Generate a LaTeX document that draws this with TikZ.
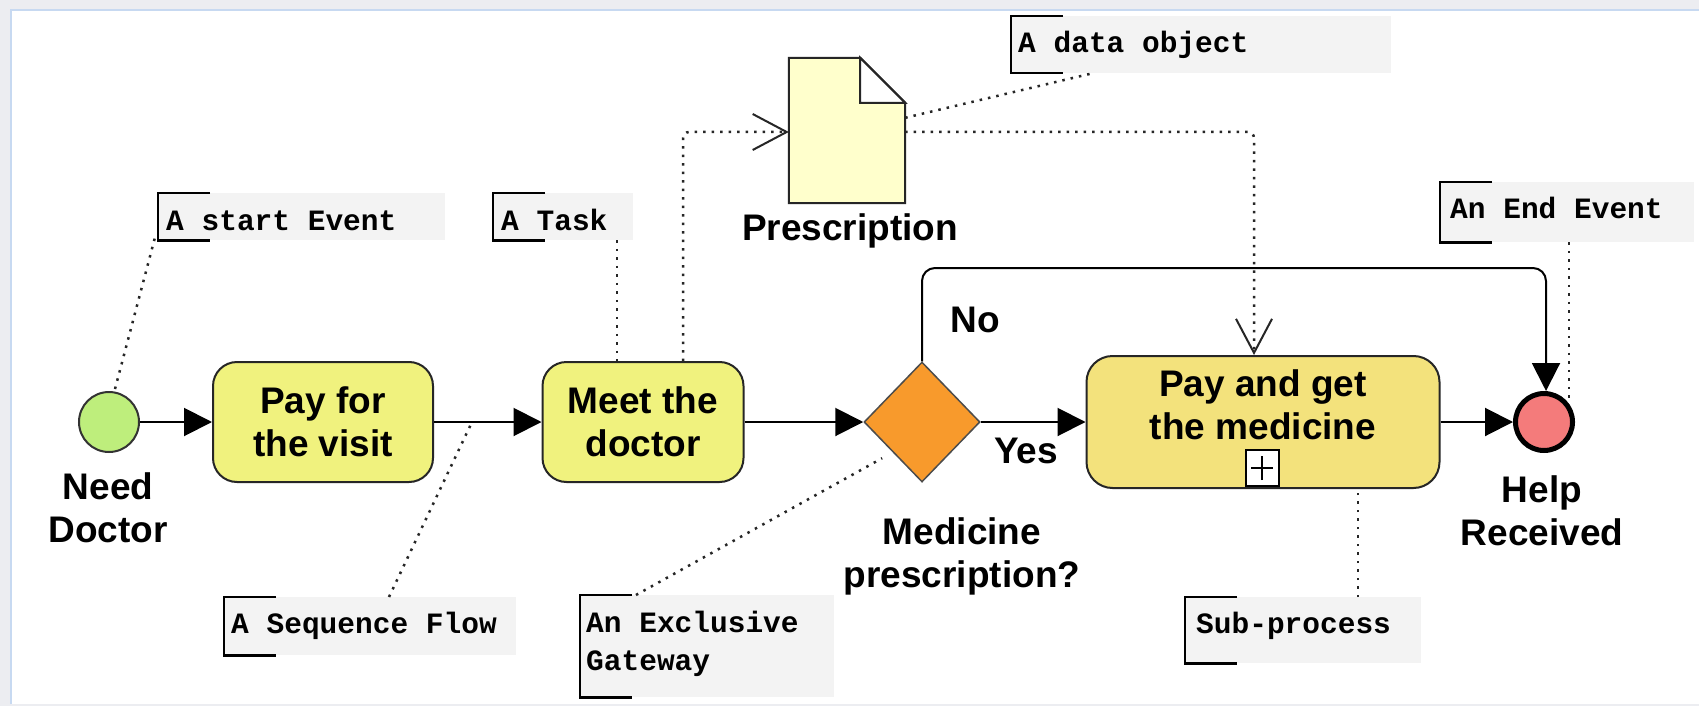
\documentclass[tikz,border=0pt]{standalone}
\usepackage{fontspec}
\setmainfont{Liberation Sans}
\setmonofont{Liberation Mono}
\usetikzlibrary{shapes.geometric,arrows.meta}
\definecolor{frameG}{HTML}{ECEDF1}
\definecolor{frameB}{HTML}{C7D9F1}
\definecolor{startG}{HTML}{BEEE7C}
\definecolor{taskY}{HTML}{F0F27E}
\definecolor{subY}{HTML}{F3E27C}
\definecolor{gwO}{HTML}{F89A2C}
\definecolor{endR}{HTML}{F47B7B}
\definecolor{dataY}{HTML}{FFFFCC}
\definecolor{annoG}{HTML}{F3F3F3}
\tikzset{
  lbl/.style={font=\fontsize{37}{43}\selectfont\bfseries, align=center, inner sep=0pt},
  taskbox/.style={draw=black!85, line width=2pt, rounded corners=24pt, fill=taskY,
    minimum height=120pt, inner sep=0pt, font=\fontsize{37}{43}\selectfont\bfseries, align=center},
  flow/.style={line width=2pt, -{Triangle[length=28pt,width=28pt]}},
  assoc/.style={draw=black!85, line width=2.5pt, dash pattern=on 2.5pt off 6pt},
  assocarrow/.style={assoc, -{Straight Barb[length=34pt,width=36pt,line width=2pt]}},
  annobox/.style={fill=annoG, inner sep=0pt, anchor=north west},
  annotext/.style={font=\fontsize{29.5}{38}\selectfont\ttfamily\bfseries, anchor=base west, inner sep=0pt, align=left},
  bracket/.style={line width=2.2pt, draw=black}
}
\begin{document}
\begin{tikzpicture}[x=1pt,y=-1pt]
\useasboundingbox (0,0) rectangle (1699,706);
% frame
\fill[frameG] (0,0) rectangle (1699,706);
\fill[white] (12,11) rectangle (1699,704);
\draw[frameB, line width=2.5pt] (11,704) -- (11,10) -- (1699,10);

% annotations
\node[annobox, minimum width=287pt, minimum height=47pt] (aStart) at (158,193) {};
\node[annotext] at ([xshift=8pt,yshift=-37pt]aStart.north west) {A start Event};
\node[annobox, minimum width=140pt, minimum height=47pt] (aTask) at (493,193) {};
\node[annotext] at ([xshift=8pt,yshift=-37pt]aTask.north west) {A Task};
\node[annobox, minimum width=380pt, minimum height=57pt] (aData) at (1011,16) {};
\node[annotext] at ([xshift=7pt,yshift=-37pt]aData.north west) {A data object};
\node[annobox, minimum width=254pt, minimum height=60pt] (aEnd) at (1440,182) {};
\node[annotext] at ([xshift=10pt,yshift=-36pt]aEnd.north west) {An End Event};
\node[annobox, minimum width=292pt, minimum height=58pt] (aSeq) at (224,597) {};
\node[annotext] at ([xshift=7pt,yshift=-36pt]aSeq.north west) {A Sequence Flow};
\node[annobox, minimum width=254pt, minimum height=102pt] (aGw) at (580,595) {};
\node[annotext] at ([xshift=6pt,yshift=-75pt]aGw.north west) {An Exclusive\\Gateway};
\node[annobox, minimum width=236pt, minimum height=66pt] (aSub) at (1185,597) {};
\node[annotext] at ([xshift=11pt,yshift=-36pt]aSub.north west) {Sub-process};
\foreach \a in {aStart,aTask,aData,aEnd,aSeq,aGw,aSub}{
  \draw[bracket] ([xshift=52pt]\a.north west) -- (\a.north west) -- (\a.south west) -- ([xshift=52pt]\a.south west);
}

% events, tasks, gateway
\node[circle, draw=black!80, line width=2pt, fill=startG, minimum size=60pt, inner sep=0pt] (start) at (109,422) {};
\node[taskbox, minimum width=220pt] (t1) at (323,422) {Pay for\\the visit};
\node[taskbox, minimum width=201pt] (t2) at (643,422) {Meet the\\doctor};
\node[diamond, draw=black!70, line width=1.5pt, fill=gwO, minimum width=116pt, minimum height=120pt, inner sep=0pt] (gw) at (922,422) {};
\node[rectangle, draw=black!85, line width=2pt, rounded corners=26pt, fill=subY, minimum width=353pt, minimum height=132pt, inner sep=0pt] (sub) at (1263,422) {};
\node[lbl, anchor=north] (subtxt) at (1263,369) {Pay and get\\the medicine};
\node[rectangle, draw=black, line width=2pt, fill=white, minimum width=33pt, minimum height=36pt, inner sep=0pt, anchor=south] (plus) at (1262,487) {};
\draw[line width=1.8pt] ([xshift=-11pt]plus.center) -- ([xshift=11pt]plus.center);
\draw[line width=1.8pt] ([yshift=-12pt]plus.center) -- ([yshift=12pt]plus.center);
\node[circle, draw=black, line width=5pt, fill=endR, minimum size=57pt, inner sep=0pt] (end) at (1544,422) {};

% data object
\node[rectangle, minimum width=116pt, minimum height=145pt, inner sep=0pt] (data) at (847,130.5) {};
\draw[line width=2pt, fill=dataY, draw=black!85] (data.north west) -- ([xshift=-45pt]data.north east) -- ([yshift=-45pt]data.north east) -- (data.south east) -- (data.south west) -- cycle;
\draw[line width=2pt, fill=white, draw=black!85] ([xshift=-45pt]data.north east) -- ([xshift=-45pt,yshift=-45pt]data.north east) -- ([yshift=-45pt]data.north east) -- cycle;

% labels
\node[lbl, anchor=north] (lNeed) at (108,472) {Need\\Doctor};
\node[lbl, anchor=north] (lMed) at (962,517) {Medicine\\prescription?};
\node[lbl, anchor=north] (lHelp) at (1542,475) {Help\\Received};
\node[lbl, anchor=base] (lPres) at (850,240) {Prescription};
\node[lbl, anchor=base] (lYes) at (1026,463) {Yes};
\node[lbl, anchor=base] (lNo) at (975,332) {No};

% sequence flows
\draw[flow] (start.east) -- (t1.west);
\draw[flow] (t1.east) -- (t2.west);
\draw[flow] (t2.east) -- (gw.west);
\draw[flow] (gw.east) -- (sub.west);
\draw[flow] (sub.east) -- (end.west);
\coordinate (noA) at (922,268);
\coordinate (noB) at (1546,268);
\draw[flow, rounded corners=13pt] (gw.north) -- (noA) -- (noB) -- (end.north -| noB);

% associations
\coordinate (asA) at (683,132);
\draw[assocarrow, rounded corners=6pt] ([xshift=40pt]t2.north) -- (asA) -- (asA -| data.west);
\coordinate (asB) at (1254,132);
\draw[assocarrow, rounded corners=6pt] (asB -| data.east) -- (asB) -- (asB |- sub.north);

% annotation links
\draw[assoc] ([yshift=-60pt]data.north east) -- ([xshift=81pt]aData.south west);
\draw[assoc] ([xshift=6pt,yshift=2pt]start.north) -- ([xshift=-3pt,yshift=3pt]aStart.south west);
\draw[assoc] ([xshift=124pt]aTask.south west) -- ([xshift=124pt]aTask.south west |- t2.north);
\coordinate (seqPt) at (472,422);
\draw[assoc] ([xshift=165pt]aSeq.north west) -- (seqPt);
\draw[assoc, shorten >=12pt] ([xshift=56pt]aGw.north west) -- (gw.south west);
\draw[assoc] ([xshift=173pt]aSub.north west) -- ([xshift=173pt]aSub.north west |- sub.south);
\draw[assoc] ([xshift=129pt]aEnd.south west) -- (1569,400);
\end{tikzpicture}
\end{document}
